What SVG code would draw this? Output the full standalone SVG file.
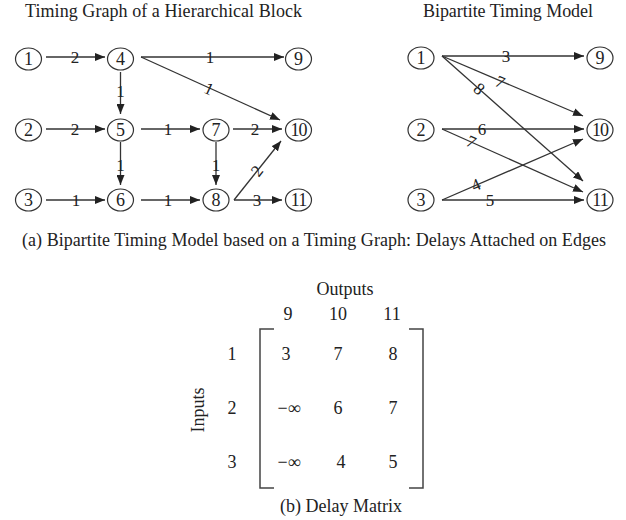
<svg xmlns="http://www.w3.org/2000/svg" width="626" height="520" viewBox="0 0 626 520">
  <style>
    text { font-family: "Liberation Serif", "Times New Roman", serif; fill: #222; }
    .title { font-size: 18px; }
    .cap { font-size: 18px; }
    .nl { font-size: 18px; text-anchor: middle; dominant-baseline: central; }
    .el { font-size: 17px; text-anchor: middle; dominant-baseline: central; }
    .mx { font-size: 18px; text-anchor: middle; dominant-baseline: central; }
    .node ellipse { fill: #fff; stroke: #333; stroke-width: 1.2; }
    .edge { stroke: #333; stroke-width: 1.3; fill: none; marker-end: url(#arrow); }
    .bracket { stroke: #444; stroke-width: 1.5; fill: none; }
  </style>
  <defs>
    <marker id="arrow" viewBox="0 0 10 8" refX="10" refY="4" markerWidth="10" markerHeight="8" markerUnits="userSpaceOnUse" orient="auto">
      <path d="M0,0 L10,4 L0,8 Z" fill="#222"/>
    </marker>
  </defs>

  <rect width="626" height="520" fill="#fff"/>

  <!-- titles -->
  <text class="title" x="25" y="17" textLength="277">Timing Graph of a Hierarchical Block</text>
  <text class="title" x="423" y="17" textLength="170">Bipartite Timing Model</text>

  <!-- timing graph: connectors -->
  <g id="graph-edges">
    <line class="edge" x1="46" y1="57" x2="105" y2="57"/>
    <line class="edge" x1="141" y1="57" x2="284" y2="57"/>
    <line class="edge" x1="141" y1="57" x2="280" y2="120"/>
    <line class="edge" x1="120.5" y1="72" x2="120.5" y2="114"/>
    <line class="edge" x1="46" y1="129" x2="105" y2="129"/>
    <line class="edge" x1="141" y1="129" x2="200" y2="129"/>
    <line class="edge" x1="233" y1="129" x2="282" y2="129"/>
    <line class="edge" x1="120.5" y1="142" x2="120.5" y2="185"/>
    <line class="edge" x1="216" y1="142" x2="216" y2="185"/>
    <line class="edge" x1="46" y1="200" x2="105" y2="200"/>
    <line class="edge" x1="141" y1="200" x2="200" y2="200"/>
    <line class="edge" x1="234" y1="200" x2="281" y2="141"/>
    <line class="edge" x1="234" y1="200" x2="282" y2="200"/>
    <text class="el" x="75" y="57">2</text>
    <text class="el" x="210" y="57">1</text>
    <text class="el" x="209" y="89" transform="rotate(24.4 209 89)">1</text>
    <text class="el" x="120.5" y="91">1</text>
    <text class="el" x="75" y="129">2</text>
    <text class="el" x="168" y="129">1</text>
    <text class="el" x="255" y="129">2</text>
    <text class="el" x="120.5" y="165">1</text>
    <text class="el" x="216" y="165">1</text>
    <text class="el" x="76" y="200">1</text>
    <text class="el" x="168" y="200">1</text>
    <text class="el" x="257" y="171" transform="rotate(-51.5 257 171)">2</text>
    <text class="el" x="257" y="200">3</text>
  </g>

  <!-- timing graph: nodes -->
  <g id="n1" class="node"><ellipse cx="28.5" cy="59" rx="13" ry="11"/><text class="nl" x="28.5" y="59">1</text></g>
  <g id="n4" class="node"><ellipse cx="120.5" cy="59" rx="13" ry="11"/><text class="nl" x="120.5" y="59">4</text></g>
  <g id="n9" class="node"><ellipse cx="298.5" cy="59" rx="13" ry="11"/><text class="nl" x="298.5" y="59">9</text></g>
  <g id="n2" class="node"><ellipse cx="28.5" cy="130" rx="13" ry="11"/><text class="nl" x="28.5" y="130">2</text></g>
  <g id="n5" class="node"><ellipse cx="120.5" cy="130" rx="13" ry="11"/><text class="nl" x="120.5" y="130">5</text></g>
  <g id="n7" class="node"><ellipse cx="216" cy="130" rx="13" ry="11"/><text class="nl" x="216" y="130">7</text></g>
  <g id="n10" class="node"><ellipse cx="298.5" cy="130" rx="13" ry="11"/><text class="nl" x="298.5" y="130" letter-spacing="-1">10</text></g>
  <g id="n3" class="node"><ellipse cx="28.5" cy="200" rx="13" ry="11"/><text class="nl" x="28.5" y="200">3</text></g>
  <g id="n6" class="node"><ellipse cx="120.5" cy="200" rx="13" ry="11"/><text class="nl" x="120.5" y="200">6</text></g>
  <g id="n8" class="node"><ellipse cx="216" cy="200" rx="13" ry="11"/><text class="nl" x="216" y="200">8</text></g>
  <g id="n11" class="node"><ellipse cx="298.5" cy="200" rx="13" ry="11"/><text class="nl" x="298.5" y="200" letter-spacing="-1">11</text></g>

  <!-- bipartite model: connectors -->
  <g id="model-edges">
    <line class="edge" x1="442" y1="56" x2="584" y2="56"/>
    <line class="edge" x1="442" y1="56" x2="583" y2="116"/>
    <line class="edge" x1="442" y1="56" x2="583" y2="181"/>
    <line class="edge" x1="442" y1="129" x2="584" y2="129"/>
    <line class="edge" x1="442" y1="129" x2="583" y2="192"/>
    <line class="edge" x1="442" y1="200" x2="583" y2="139"/>
    <line class="edge" x1="442" y1="200" x2="584" y2="200"/>
    <text class="el" x="506" y="56">3</text>
    <text class="el" x="500" y="82" transform="rotate(23 500 82)">7</text>
    <text class="el" x="479" y="89" transform="rotate(41.6 479 89)">8</text>
    <text class="el" x="482" y="129">6</text>
    <text class="el" x="471" y="142" transform="rotate(24 471 142)">7</text>
    <text class="el" x="476" y="185" transform="rotate(-23.4 476 185)">4</text>
    <text class="el" x="490" y="200">5</text>
  </g>

  <!-- bipartite model: nodes -->
  <g id="m1" class="node"><ellipse cx="421" cy="58" rx="13" ry="11"/><text class="nl" x="421" y="58">1</text></g>
  <g id="m2" class="node"><ellipse cx="421" cy="130" rx="13" ry="11"/><text class="nl" x="421" y="130">2</text></g>
  <g id="m3" class="node"><ellipse cx="421" cy="200" rx="13" ry="11"/><text class="nl" x="421" y="200">3</text></g>
  <g id="m9" class="node"><ellipse cx="600" cy="58" rx="13" ry="11"/><text class="nl" x="600" y="58">9</text></g>
  <g id="m10" class="node"><ellipse cx="600" cy="130" rx="13" ry="11"/><text class="nl" x="600" y="130" letter-spacing="-1">10</text></g>
  <g id="m11" class="node"><ellipse cx="600" cy="200" rx="13" ry="11"/><text class="nl" x="600" y="200" letter-spacing="-1">11</text></g>

  <text class="cap" x="22" y="246" textLength="584">(a) Bipartite Timing Model based on a Timing Graph: Delays Attached on Edges</text>

  <!-- delay matrix -->
  <g id="matrix">
    <text class="mx" x="345" y="289">Outputs</text>
    <text class="mx" x="288" y="314">9</text>
    <text class="mx" x="338" y="314">10</text>
    <text class="mx" x="392" y="314">11</text>
    <text class="mx" x="198" y="410" transform="rotate(-90 198 410)">Inputs</text>
    <text class="mx" x="232" y="354">1</text>
    <text class="mx" x="232" y="408">2</text>
    <text class="mx" x="232" y="462">3</text>
    <path class="bracket" d="M274,329 H260 V488 H274"/>
    <path class="bracket" d="M409,329 H423 V488 H409"/>
    <text class="mx" x="286" y="354">3</text>
    <text class="mx" x="338" y="354">7</text>
    <text class="mx" x="393" y="354">8</text>
    <text class="mx" x="289" y="408">−∞</text>
    <text class="mx" x="338" y="408">6</text>
    <text class="mx" x="393" y="408">7</text>
    <text class="mx" x="289" y="462">−∞</text>
    <text class="mx" x="341" y="462">4</text>
    <text class="mx" x="393" y="462">5</text>
    <text class="cap" x="341" y="512" text-anchor="middle">(b) Delay Matrix</text>
  </g>
</svg>
